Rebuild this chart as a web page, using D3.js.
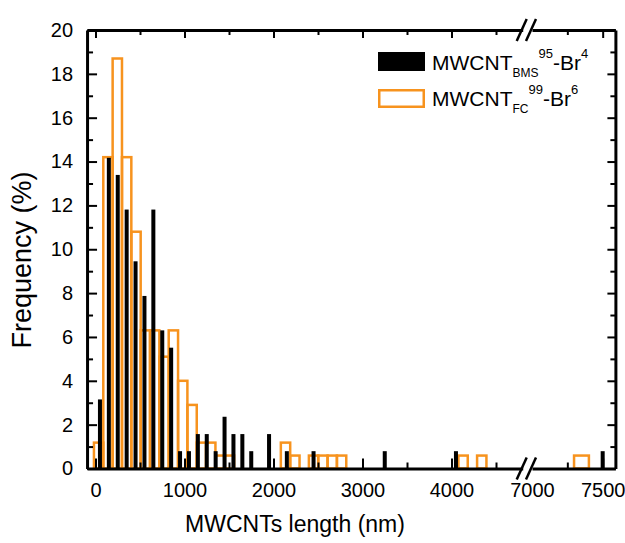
<!DOCTYPE html>
<html>
<head>
<meta charset="utf-8">
<script src="https://cdn.jsdelivr.net/npm/d3@7"></script>
<style>
body { margin: 0; background: #fff; }
text { font-family: "Liberation Sans", Arial, sans-serif; fill: #000; }
</style>
</head>
<body>
<div id="chart"></div>
<script>
// black series: bar centres (nm) and frequency (%)
var blackX = [50, 150, 250, 350, 450, 550, 650, 750, 850, 950, 1050, 1150, 1250, 1350, 1450, 1550, 1650, 1750, 1950, 2150, 2450, 3250, 4050, 7500]
var blackFreq = [3.15, 14.17, 13.39, 11.81, 9.45, 7.87, 11.81, 6.30, 5.51, 0.79, 0.79, 1.57, 1.57, 0.79, 2.36, 1.57, 1.57, 0.79, 1.57, 0.79, 0.79, 0.79, 0.79, 0.79]

// orange series: bin centres (nm) and frequency (%)
var orangeX = [35, 140, 245, 350, 455, 560, 665, 770, 875, 980, 1085, 1190, 1295, 1400, 1505, 2135, 2240, 2450, 2555, 2660, 2765, 4130, 4340, 7350]
var orangeFreq = [1.18, 14.2, 18.7, 14.2, 10.8, 6.3, 6.3, 5.1, 6.3, 4.0, 2.9, 1.18, 1.18, 0.59, 0.59, 1.18, 0.59, 0.59, 0.59, 0.59, 0.59, 0.59, 0.59, 0.59]

var orangeBin = 105   // nm
var blackBin = 45     // nm, drawn bar width

var xMajorLeft = [0, 1000, 2000, 3000, 4000]
var xMinorLeft = [500, 1500, 2500, 3500, 4500]
var xMajorRight = [7000, 7500]
var xMinorRight = [7250]
var yMajor = [0, 2, 4, 6, 8, 10, 12, 14, 16, 18, 20]
var yMinor = [1, 3, 5, 7, 9, 11, 13, 15, 17, 19]

var legendSub = ['BMS', 'FC']
var legendSup = ['95', '99']
var legendBr = ['4', '6']

var width = 625
var height = 543
var orange = '#f7931e'

var svg = d3.select('#chart').append('svg')
  .attr('width', width)
  .attr('height', height)

svg.append('rect').attr('width', width).attr('height', height).attr('fill', '#fff')

var y = d3.scaleLinear().domain([0, 20]).range([468.5, 30])
var xL = d3.scaleLinear().domain([-95, 4800]).range([87.05, 522.7])
var xR = d3.scaleLinear().domain([7000, 7590]).range([532, 615.4])
var seg = function(v) { return v > 6000 ? xR : xL }
var xPos = function(v) { return seg(v)(v) }

// orange outlined histogram
svg.append('g').selectAll('rect')
  .data(orangeX)
  .enter().append('rect')
  .attr('x', function(d) { return seg(d)(d - orangeBin / 2) })
  .attr('width', function(d) { return seg(d)(d + orangeBin / 2) - seg(d)(d - orangeBin / 2) })
  .attr('y', function(d, i) { return y(orangeFreq[i]) })
  .attr('height', function(d, i) { return y(0) - y(orangeFreq[i]) })
  .attr('fill', 'none')
  .attr('stroke', orange)
  .attr('stroke-width', 2.5)

// black bars
var bw = xL(blackBin) - xL(0)
svg.append('g').selectAll('rect')
  .data(blackX)
  .enter().append('rect')
  .attr('x', function(d) { return xPos(d) - bw / 2 })
  .attr('width', bw)
  .attr('y', function(d, i) { return y(blackFreq[i]) })
  .attr('height', function(d, i) { return y(0) - y(blackFreq[i]) })
  .attr('fill', '#000')

function styleAxis(g) {
  g.selectAll('.domain').attr('stroke', '#000').attr('stroke-width', 3)
  g.selectAll('.tick line').attr('stroke', '#000').attr('stroke-width', 2)
  g.selectAll('.tick text').attr('font-size', 20).attr('font-family', '"Liberation Sans", Arial, sans-serif')
}

function addAxis(axis, tx, ty, noDomain) {
  var g = svg.append('g').attr('transform', 'translate(' + tx + ',' + ty + ')').call(axis)
  styleAxis(g)
  if (noDomain) g.select('.domain').remove()
  return g
}

// bottom axis
addAxis(d3.axisBottom(xL).tickValues(xMajorLeft).tickSize(-10).tickSizeOuter(0).tickPadding(14).tickFormat(d3.format('d')), 0, y(0))
addAxis(d3.axisBottom(xL).tickValues(xMinorLeft).tickSize(-6).tickFormat(''), 0, y(0), true)
var gbr = addAxis(d3.axisBottom(xR).tickValues(xMajorRight).tickSize(-10).tickSizeOuter(0).tickPadding(14).tickFormat(d3.format('d')), 0, y(0))
gbr.selectAll('.tick line').filter(function(d) { return d === 7000 }).remove()
addAxis(d3.axisBottom(xR).tickValues(xMinorRight).tickSize(-6).tickFormat(''), 0, y(0), true)

// top axis
addAxis(d3.axisTop(xL).tickValues(xMajorLeft).tickSize(-8).tickSizeOuter(0).tickFormat(''), 0, y(20))
addAxis(d3.axisTop(xL).tickValues(xMinorLeft).tickSize(-5).tickFormat(''), 0, y(20), true)
var gtr = addAxis(d3.axisTop(xR).tickValues(xMajorRight).tickSize(-8).tickSizeOuter(0).tickFormat(''), 0, y(20))
gtr.selectAll('.tick line').filter(function(d) { return d === 7000 }).remove()
addAxis(d3.axisTop(xR).tickValues(xMinorRight).tickSize(-5).tickFormat(''), 0, y(20), true)

// left / right axes
addAxis(d3.axisLeft(y).tickValues(yMajor).tickSize(-10).tickSizeOuter(0).tickPadding(14), xL(-95), 0)
addAxis(d3.axisLeft(y).tickValues(yMinor).tickSize(-6).tickFormat(''), xL(-95), 0, true)
addAxis(d3.axisRight(y).tickValues(yMajor).tickSize(-8).tickSizeOuter(0).tickFormat(''), xR(7590), 0)
addAxis(d3.axisRight(y).tickValues(yMinor).tickSize(-5).tickFormat(''), xR(7590), 0, true)

// axis break marks
var breaks = [xL(4800) - 1, xR(7000) - 1]
;[y(0), y(20)].forEach(function(yy) {
  svg.append('g').selectAll('line')
    .data(breaks)
    .enter().append('line')
    .attr('x1', function(d) { return d - 5 })
    .attr('x2', function(d) { return d + 5 })
    .attr('y1', yy + 11)
    .attr('y2', yy - 11)
    .attr('stroke', '#000')
    .attr('stroke-width', 2.5)
})

// legend
var legend = svg.append('g')
legend.append('rect').attr('x', 378).attr('y', 52).attr('width', 47).attr('height', 19).attr('fill', '#000')
legend.append('rect').attr('x', 379.25).attr('y', 90.25).attr('width', 44.5).attr('height', 16.5)
  .attr('fill', 'none').attr('stroke', orange).attr('stroke-width', 2.5)

legendSub.forEach(function(s, i) {
  var t = legend.append('text').attr('x', 432).attr('y', 70 + i * 35.5).attr('font-size', 21)
  t.append('tspan').text('MWCNT')
  t.append('tspan').attr('font-size', 12).attr('dy', 7).text(s)
  t.append('tspan').attr('font-size', 13).attr('dy', -19).text(legendSup[i])
  t.append('tspan').attr('font-size', 21).attr('dy', 12).text('-Br')
  t.append('tspan').attr('font-size', 13).attr('dy', -12).text(legendBr[i])
})

// axis titles
svg.append('text')
  .attr('x', 295).attr('y', 532)
  .attr('text-anchor', 'middle')
  .attr('font-size', 23)
  .text('MWCNTs length (nm)')

svg.append('text')
  .attr('transform', 'translate(31,260) rotate(-90)')
  .attr('text-anchor', 'middle')
  .attr('font-size', 27)
  .text('Frequency (%)')
</script>
</body>
</html>
